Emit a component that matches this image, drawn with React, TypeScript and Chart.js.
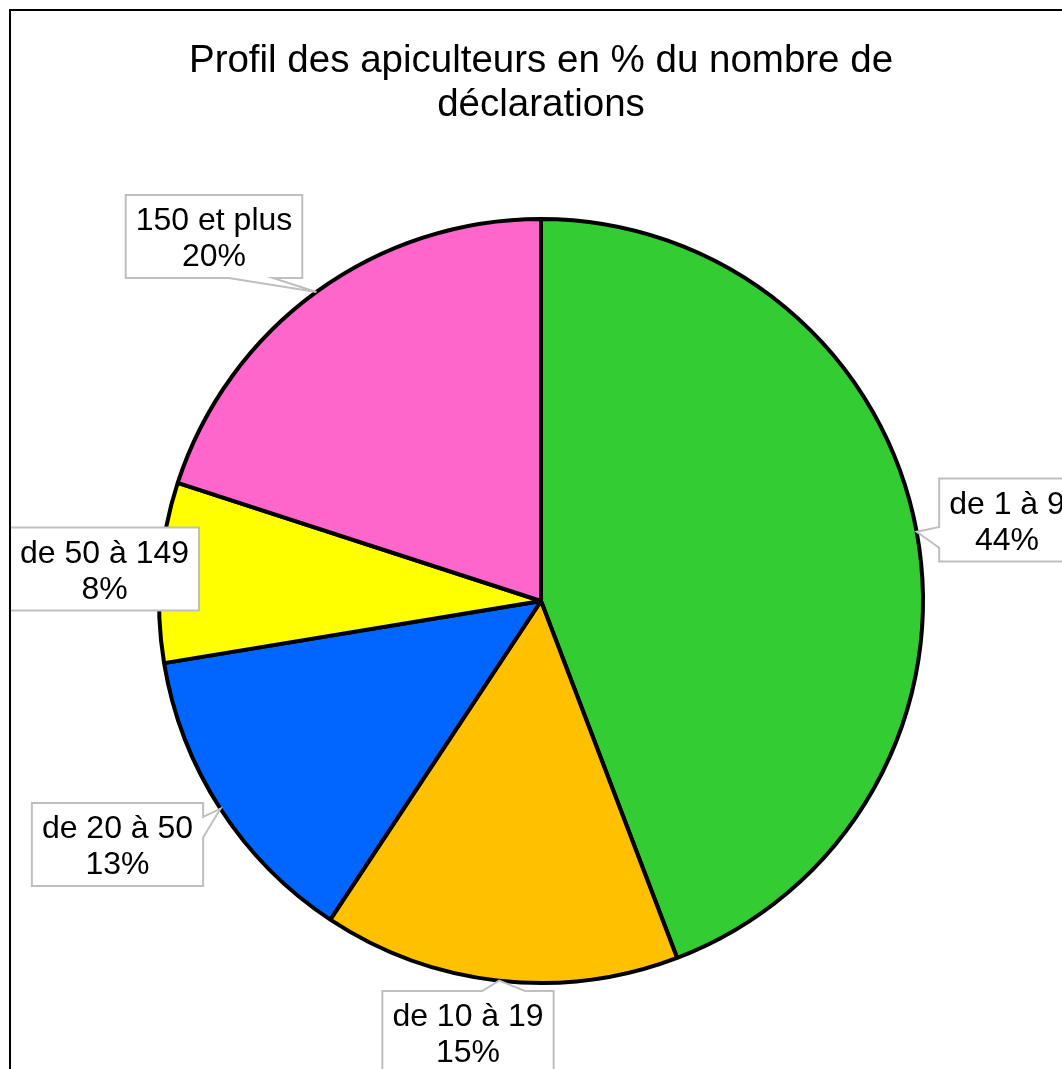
import React, { useEffect, useRef } from 'react';
import { Chart, registerables } from 'chart.js';

Chart.register(...registerables);

// ---- data ----
const titleLines = ['Profil des apiculteurs en % du nombre de', 'déclarations'];
const categories = ['de 1 à 9', 'de 10 à 19', 'de 20 à 50', 'de 50 à 149', '150 et plus'];
const shares = [44.2, 15.1, 13.1, 7.6, 20.0];
const sliceColors = ['#33CC33', '#FFC000', '#0066FF', '#FFFF00', '#FF66CC'];

// ---- layout (positions of label callout boxes, centre x/y) ----
const labelBoxCenters: [number, number][] = [
  [1007, 520],
  [468, 1032.5],
  [117.5, 844.5],
  [104.5, 569],
  [214, 236.5],
];

const FAMILY = "'Liberation Sans', Arial, Helvetica, sans-serif";
const LABEL_FONT = `32px ${FAMILY}`;

const calloutPlugin = {
  id: 'callouts',
  afterDatasetsDraw(chart: any) {
    const ctx: CanvasRenderingContext2D = chart.ctx;
    const meta = chart.getDatasetMeta(0);
    const data = chart.data.datasets[0].data as number[];
    const total = data.reduce((a, b) => a + b, 0);
    ctx.save();
    ctx.font = LABEL_FONT;
    meta.data.forEach((arc: any, i: number) => {
      const p = arc.getProps(['x', 'y', 'startAngle', 'endAngle', 'outerRadius'], true);
      const mid = (p.startAngle + p.endAngle) / 2;
      const tx = p.x + Math.cos(mid) * p.outerRadius;
      const ty = p.y + Math.sin(mid) * p.outerRadius;
      const lines = [String(chart.data.labels[i]), Math.round((data[i] / total) * 100) + '%'];
      const w = Math.max(...lines.map((s) => ctx.measureText(s).width)) + 20;
      const h = 83;
      const [cx, cy] = labelBoxCenters[i];
      const l = cx - w / 2;
      const t = cy - h / 2;
      const r = l + w;
      const b = t + h;
      const inside = tx >= l && tx <= r && ty >= t && ty <= b;
      const dx = tx - cx;
      const dy = ty - cy;
      const dq = (dx * h) / w;
      const dz = Math.abs(dy) - Math.abs(dq);
      const x1 = l + (w * (dx > 0 ? 7 : 2)) / 12;
      const x2 = l + (w * (dx > 0 ? 10 : 5)) / 12;
      const y1 = t + (h * (dy > 0 ? 7 : 2)) / 12;
      const y2 = t + (h * (dy > 0 ? 10 : 5)) / 12;
      let side = 'none';
      if (!inside) {
        if (dz > 0) side = dy < 0 ? 'top' : 'bottom';
        else side = dx < 0 ? 'left' : 'right';
      }
      ctx.beginPath();
      ctx.moveTo(l, t);
      if (side === 'top') {
        ctx.lineTo(x1, t);
        ctx.lineTo(tx, ty);
        ctx.lineTo(x2, t);
      }
      ctx.lineTo(r, t);
      if (side === 'right') {
        ctx.lineTo(r, y1);
        ctx.lineTo(tx, ty);
        ctx.lineTo(r, y2);
      }
      ctx.lineTo(r, b);
      if (side === 'bottom') {
        ctx.lineTo(x2, b);
        ctx.lineTo(tx, ty);
        ctx.lineTo(x1, b);
      }
      ctx.lineTo(l, b);
      if (side === 'left') {
        ctx.lineTo(l, y2);
        ctx.lineTo(tx, ty);
        ctx.lineTo(l, y1);
      }
      ctx.closePath();
      ctx.fillStyle = '#FFFFFF';
      ctx.fill();
      ctx.strokeStyle = '#BFBFBF';
      ctx.lineWidth = 2;
      ctx.lineJoin = 'miter';
      ctx.stroke();
      ctx.fillStyle = '#000000';
      ctx.textAlign = 'center';
      ctx.textBaseline = 'middle';
      ctx.fillText(lines[0], cx, cy - 15);
      ctx.fillText(lines[1], cx, cy + 21);
    });
    ctx.restore();
  },
  afterDraw(chart: any) {
    const ctx: CanvasRenderingContext2D = chart.ctx;
    ctx.save();
    ctx.strokeStyle = '#000000';
    ctx.lineWidth = 2;
    ctx.strokeRect(10, 10, 1200, 1200);
    ctx.restore();
  },
};

export default function App() {
  const canvasRef = useRef<HTMLCanvasElement | null>(null);

  useEffect(() => {
    if (!canvasRef.current) return;
    const chart = new Chart(canvasRef.current, {
      type: 'pie',
      data: {
        labels: categories,
        datasets: [
          {
            data: shares,
            backgroundColor: sliceColors,
            borderColor: '#000000',
            borderWidth: 4,
          },
        ],
      },
      options: {
        responsive: false,
        animation: false,
        devicePixelRatio: 1,
        layout: { padding: { top: 0, left: 20, right: 0, bottom: 84 } },
        plugins: {
          legend: { display: false },
          tooltip: { enabled: false },
          title: {
            display: true,
            text: titleLines,
            color: '#000000',
            font: { family: FAMILY, size: 38.5, weight: 'normal', lineHeight: 1.13 },
            padding: { top: 40, bottom: 90 },
          },
        },
      },
      plugins: [calloutPlugin],
    } as any);
    return () => chart.destroy();
  }, []);

  return (
    <div style={{ position: 'absolute', left: 0, top: 0, width: 1062, height: 1069, background: '#fff' }}>
      <canvas ref={canvasRef} width={1062} height={1069} style={{ display: 'block' }} />
    </div>
  );
}
